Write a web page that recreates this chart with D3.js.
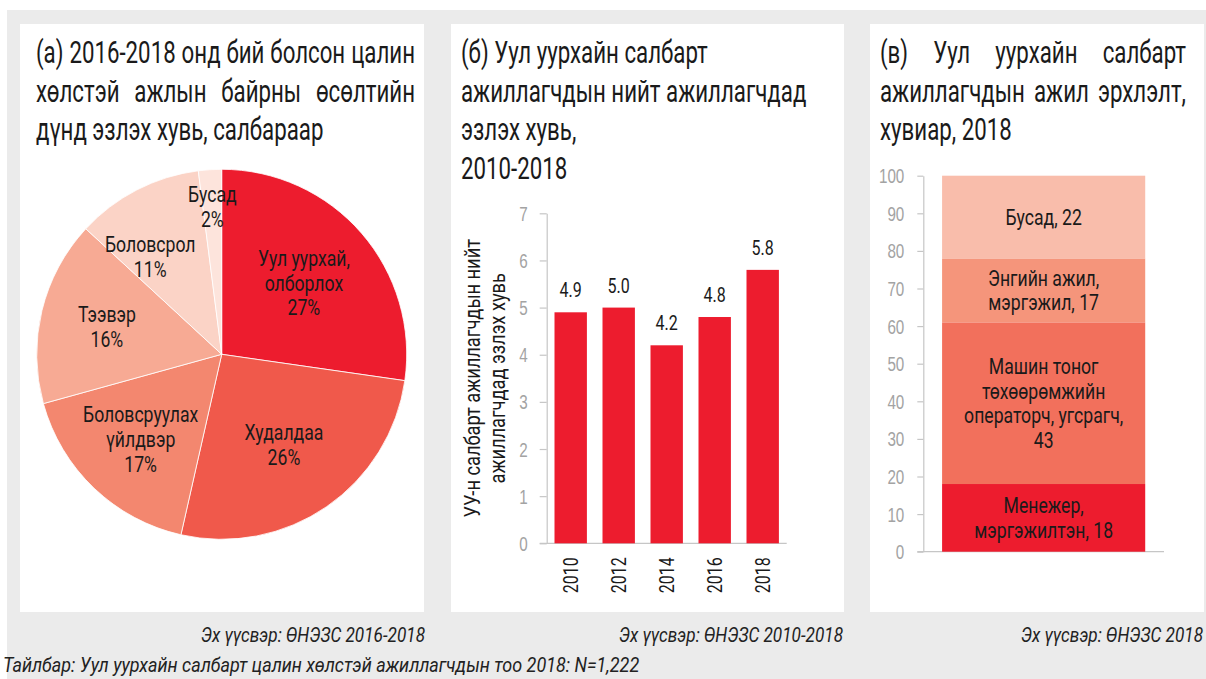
<!DOCTYPE html>
<html>
<head>
<meta charset="utf-8">
<script src="https://cdn.jsdelivr.net/npm/d3@7"></script>
<style>
  html, body { margin: 0; padding: 0; background: #fff; }
  svg { display: block; font-family: Roboto, "Noto Sans", sans-serif; }
</style>
</head>
<body>
<svg id="chart" width="1206" height="679"></svg>
<script>
// ---- (а) new paid jobs 2016-2018 by sector ----
const sectorNames = [["Уул уурхай,", "олборлох"], ["Худалдаа"], ["Боловсруулах", "үйлдвэр"], ["Тээвэр"], ["Боловсрол"], ["Бусад"]];
const sectorShares = [27, 26, 17, 16, 11, 2];
const sectorColors = ["#ed1c2e", "#f0594b", "#f3876f", "#f7aa94", "#fbd3c6", "#fde4dc"];

// ---- (б) mining share of all employees ----
const years = ["2010", "2012", "2014", "2016", "2018"];
const miningShare = [4.9, 5.0, 4.2, 4.8, 5.8];
const shareTicks = [0, 1, 2, 3, 4, 5, 6, 7];

// ---- (в) mining employees by occupation, 2018 ----
const occupationKeys = ["manager", "operator", "elementary", "other"];
const occupationLines = [["Менежер,", "мэргэжилтэн,"], ["Машин тоног", "төхөөрөмжийн", "операторч, угсрагч,", ""], ["Энгийн ажил,", "мэргэжил,"], ["Бусад,"]];
const occupationShares = [18, 43, 17, 22];
const occupationColors = ["#ed1c2e", "#f2705c", "#f5957b", "#f9bdab"];
const percentTicks = [0, 10, 20, 30, 40, 50, 60, 70, 80, 90, 100];

const titles = [
  ["(а) 2016-2018 онд бий болсон цалин", "хөлстэй ажлын байрны өсөлтийн", "дүнд эзлэх хувь, салбараар"],
  ["(б) Уул уурхайн салбарт", "ажиллагчдын нийт ажиллагчдад", "эзлэх хувь,", "2010-2018"],
  ["(в) Уул уурхайн салбарт", "ажиллагчдын ажил эрхлэлт,", "хувиар, 2018"]
];
const sources = ["Эх үүсвэр: ӨНЭЗС 2016-2018", "Эх үүсвэр: ӨНЭЗС 2010-2018", "Эх үүсвэр: ӨНЭЗС 2018"];
const note = "Тайлбар: Уул уурхайн салбарт цалин хөлстэй ажиллагчдын тоо 2018: N=1,222";

const svg = d3.select("#chart");
const INK = "#1a1a1a";
const AXIS = "#c6c6c6";
const TICK_TEXT = "#a3a3a3";

// text helper: every label is drawn squeezed horizontally around its anchor
function label(parent, x, y, str, o = {}) {
  const sx = o.sx || 0.8;
  const rot = o.rotate ? ` rotate(${o.rotate})` : "";
  return parent.append("text")
    .attr("transform", `translate(${x},${y})${rot} scale(${sx},1)`)
    .attr("text-anchor", o.anchor || "start")
    .attr("dy", o.dy || null)
    .style("font-size", (o.size || 20) + "px")
    .style("font-weight", o.weight || 400)
    .style("font-style", o.italic ? "italic" : null)
    .attr("fill", o.fill || INK)
    .text(str);
}

// stacked lines centred vertically on (x, cy)
function block(parent, x, cy, lines, lh, o = {}) {
  const n = lines.length;
  lines.forEach((s, k) => label(parent, x, cy + (k - (n - 1) / 2) * lh, s, Object.assign({ anchor: "middle", dy: "0.36em" }, o)));
}

// title with optional full justification (word spacing spread to the column width)
const TSX = 0.73;
function title(parent, lines, x0, width, y0, lh, justified, size) {
  lines.forEach((line, k) => {
    const y = y0 + k * lh;
    const words = line.split(" ");
    if (!justified[k] || words.length < 2) {
      label(parent, x0, y, line, { size, sx: TSX });
      return;
    }
    const nodes = words.map(w => label(parent, 0, y, w, { size, sx: TSX }));
    const widths = nodes.map(n => n.node().getComputedTextLength() * TSX);
    const gap = (width - d3.sum(widths)) / (words.length - 1);
    let x = x0;
    nodes.forEach((n, i) => {
      n.attr("transform", `translate(${x},${y}) scale(${TSX},1)`);
      x += widths[i] + gap;
    });
  });
}

// backdrop and panels
svg.append("rect").attr("x", 7).attr("y", 10).attr("width", 1199).attr("height", 669).attr("fill", "#ebebeb");
const panels = [[20, 24, 404, 588], [451, 24, 393, 588], [870, 24, 334, 588]];
svg.selectAll("rect.panel").data(panels).join("rect").attr("class", "panel")
  .attr("x", d => d[0]).attr("y", d => d[1]).attr("width", d => d[2]).attr("height", d => d[3]).attr("fill", "#fff");

title(svg, titles[0], 36, 379, 63, 38.5, [true, true, false], 30.5);
title(svg, titles[1], 461, 340, 63, 38.5, [false, false, false, false], 30.5);
title(svg, titles[2], 880, 306, 63, 38.5, [true, true, false], 30.5);

// ---------- pie ----------
const R = 185;
const pieG = svg.append("g").attr("transform", "translate(221.7,354.3)");
const slices = d3.pie().sort(null).value(d => d)(sectorShares);
const arc = d3.arc().innerRadius(0).outerRadius(R);
pieG.selectAll("path").data(slices).join("path")
  .attr("d", arc)
  .attr("fill", (d, i) => sectorColors[i])
  .attr("stroke", "#fff").attr("stroke-width", 0.8);

// labels sit on the area centroid of each wedge; very thin wedges push out toward the rim.
// Smallest wedges are placed first; a later label that collides is turned away from it.
const placed = [];
const overlaps = (a, b) => a.x < b.x + b.width + 2 && b.x < a.x + a.width + 2 && a.y < b.y + b.height && b.y < a.y + a.height;
slices.map((d, i) => ({ d, i })).sort((p, q) => p.d.value - q.d.value).forEach(({ d, i }) => {
  const a = d.endAngle - d.startAngle;
  const dist = d.value < 5 ? R * 0.8 : (4 * R * Math.sin(a / 2)) / (3 * a);
  let ang = (d.startAngle + d.endAngle) / 2;
  const g = pieG.append("g");
  block(g, 0, 0, [...sectorNames[i], d.value + "%"], 24.7, { size: 21.5, sx: 0.82 });
  const local = g.node().getBBox();
  const boxAt = t => ({ x: dist * Math.sin(t) + local.x, y: -dist * Math.cos(t) + local.y, width: local.width, height: local.height });
  for (let step = 0; step < 30; step++) {
    const hit = placed.find(p => overlaps(boxAt(ang), p.box));
    if (!hit) break;
    ang += (ang > hit.ang ? 1 : -1) * Math.PI / 180;
  }
  g.attr("transform", `translate(${dist * Math.sin(ang)},${-dist * Math.cos(ang)})`);
  placed.push({ ang, box: boxAt(ang) });
});

// ---------- bar chart ----------
const yB = d3.scaleLinear().domain([0, 7]).range([543.3, 213.3]);
const xB = d3.scaleBand().domain(years).range([546.7, 786.7]).paddingInner(0.325).paddingOuter(0.1625);

function styleAxis(g) {
  g.style("font-family", null).style("font-size", null);
  g.select(".domain").attr("stroke", AXIS).attr("stroke-width", 1.2);
  g.selectAll(".tick line").attr("stroke", AXIS).attr("stroke-width", 1.2);
  g.selectAll(".tick text").each(function () {
    const x = +this.getAttribute("x");
    d3.select(this).attr("x", 0).attr("dy", "0.36em")
      .attr("transform", `translate(${x},0) scale(0.78,1)`)
      .attr("fill", TICK_TEXT).style("font-size", "19.5px").style("font-weight", 300);
  });
}

svg.append("g").attr("transform", "translate(546.7,0)")
  .call(d3.axisLeft(yB).tickValues(shareTicks).tickSize(7).tickSizeOuter(0).tickPadding(12).tickFormat(d3.format("d")))
  .call(styleAxis);
svg.append("line").attr("x1", 539.7).attr("x2", xB.range()[1]).attr("y1", yB(0)).attr("y2", yB(0))
  .attr("stroke", AXIS).attr("stroke-width", 1.2);

svg.selectAll("rect.bar").data(miningShare).join("rect").attr("class", "bar")
  .attr("x", (d, i) => xB(years[i])).attr("width", xB.bandwidth())
  .attr("y", d => yB(d)).attr("height", d => yB(0) - yB(d))
  .attr("fill", "#ed1c2e");

miningShare.forEach((v, i) => {
  const cx = xB(years[i]) + xB.bandwidth() / 2;
  label(svg, cx, yB(v) - 15, d3.format(".1f")(v), { anchor: "middle", size: 20, sx: 0.8 });
  label(svg, cx, yB(0) + 14, years[i], { anchor: "end", rotate: -90, dy: "0.36em", size: 20.5, sx: 0.78 });
});

const yTitleY = (yB(0) + yB(7)) / 2;
label(svg, 471.7, yTitleY, "УУ-н салбарт ажиллагчдын нийт", { anchor: "middle", rotate: -90, dy: "0.36em", size: 22, sx: 0.83 });
label(svg, 496.7, yTitleY, "ажиллагчдад эзлэх хувь", { anchor: "middle", rotate: -90, dy: "0.36em", size: 22, sx: 0.83 });

// ---------- stacked column ----------
const yS = d3.scaleLinear().domain([0, 100]).range([551.7, 175.7]);
const xS = d3.scaleBand().domain(["2018"]).range([923.3, 1164]).paddingInner(0).paddingOuter(0.0925);

svg.append("g").attr("transform", "translate(923.3,0)")
  .call(d3.axisLeft(yS).tickValues(percentTicks).tickSize(6).tickSizeOuter(0).tickPadding(13).tickFormat(d3.format("d")))
  .call(styleAxis);
svg.append("line").attr("x1", 917.3).attr("x2", xS.range()[1]).attr("y1", yS(0)).attr("y2", yS(0))
  .attr("stroke", AXIS).attr("stroke-width", 1.2);

const row = {};
occupationKeys.forEach((k, i) => row[k] = occupationShares[i]);
const stacked = d3.stack().keys(occupationKeys)([row]);
svg.selectAll("rect.seg").data(stacked).join("rect").attr("class", "seg")
  .attr("x", xS("2018")).attr("width", xS.bandwidth())
  .attr("y", d => yS(d[0][1])).attr("height", d => yS(d[0][0]) - yS(d[0][1]))
  .attr("fill", (d, i) => occupationColors[i]);

stacked.forEach((s, i) => {
  const v = occupationShares[i];
  const lines = occupationLines[i].slice();
  const last = lines.length - 1;
  lines[last] = lines[last] === "" ? String(v) : lines[last] + " " + v;
  const cx = xS("2018") + xS.bandwidth() / 2;
  const cy = (yS(s[0][0]) + yS(s[0][1])) / 2;
  block(svg, cx, cy, lines, 24.5, { size: 21.5, sx: 0.82 });
});

// ---------- sources and note ----------
const sourceRight = [425, 843, 1203];
sources.forEach((s, i) => label(svg, sourceRight[i], 642, s, { anchor: "end", italic: true, size: 20, sx: 0.86, fill: "#222" }));
label(svg, 3, 672, note, { italic: true, size: 20, sx: 0.9, fill: "#222" });
</script>
</body>
</html>
